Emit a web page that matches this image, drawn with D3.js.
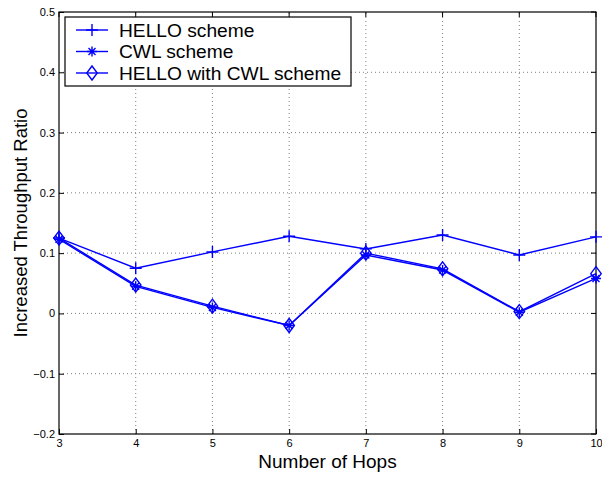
<!DOCTYPE html>
<html>
<head>
<meta charset="utf-8">
<script src="https://d3js.org/d3.v7.min.js"></script>
<style>
  body { margin: 0; background: #fff; }
  text { font-family: "Liberation Sans", Arial, sans-serif; }
</style>
</head>
<body>
<div id="chart"></div>
<script>
// data
const hops = [3, 4, 5, 6, 7, 8, 9, 10];
const helloScheme = [0.125, 0.075, 0.102, 0.128, 0.107, 0.130, 0.097, 0.127];
const cwlScheme = [0.123, 0.045, 0.010, -0.020, 0.097, 0.072, 0.002, 0.058];
const helloCwlScheme = [0.125, 0.047, 0.012, -0.020, 0.100, 0.074, 0.003, 0.066];
const yTicks = [-0.2, -0.1, 0, 0.1, 0.2, 0.3, 0.4, 0.5];
const seriesNames = ["HELLO scheme", "CWL scheme", "HELLO with CWL scheme"];
const seriesMarkers = ["plus", "star", "diamond"];

const width = 602, height = 477;
const margin = { top: 12, right: 6, bottom: 43, left: 59 };
const blue = "#0000ff";

const svg = d3.select("#chart").append("svg")
  .attr("width", width)
  .attr("height", height);

const x = d3.scaleLinear().domain([3, 10]).range([margin.left, width - margin.right]);
const y = d3.scaleLinear().domain([-0.2, 0.5]).range([height - margin.bottom, margin.top]);

const x0 = margin.left, x1 = width - margin.right;
const y0 = height - margin.bottom, y1 = margin.top;

// grid (dotted)
const grid = svg.append("g").attr("stroke", "#808080").attr("stroke-width", 1)
  .attr("stroke-dasharray", "1,3");
hops.slice(1, -1).forEach(h => {
  grid.append("line").attr("x1", x(h)).attr("x2", x(h)).attr("y1", y0).attr("y2", y1);
});
yTicks.slice(1, -1).forEach(v => {
  grid.append("line").attr("x1", x0).attr("x2", x1).attr("y1", y(v)).attr("y2", y(v));
});

// axes, ticks inward like matlab
const xAxis = d3.axisBottom(x).tickValues(hops).tickFormat(d3.format("d")).tickSizeInner(-5).tickSizeOuter(0);
const gx = svg.append("g").attr("transform", `translate(0,${y0})`).call(xAxis);
gx.select(".domain").remove();
gx.selectAll("text").attr("font-size", 11).attr("dy", "0.9em").attr("fill", "#000");

const yAxis = d3.axisLeft(y).tickValues(yTicks).tickFormat(d => d === 0 ? "0" : d3.format(".1f")(d).replace("-", "\u2212"))
  .tickSizeInner(-5).tickSizeOuter(0);
const gy = svg.append("g").attr("transform", `translate(${x0},0)`).call(yAxis);
gy.select(".domain").remove();
gy.selectAll("text").attr("font-size", 11).attr("x", -4).attr("fill", "#000");

// ticks on top and right too
const tk = svg.append("g").attr("stroke", "#000");
hops.forEach(h => tk.append("line").attr("x1", x(h)).attr("x2", x(h)).attr("y1", y1).attr("y2", y1 + 5));
yTicks.forEach(v => tk.append("line").attr("x1", x1).attr("x2", x1 - 5).attr("y1", y(v)).attr("y2", y(v)));

// box
svg.append("rect").attr("x", x0).attr("y", y1).attr("width", x1 - x0).attr("height", y0 - y1)
  .attr("fill", "none").attr("stroke", "#000").attr("stroke-width", 1.2);

// markers
function drawMarker(g, type, cx, cy) {
  if (type === "plus") {
    g.append("path").attr("d", `M${cx - 6},${cy}H${cx + 6}M${cx},${cy - 6}V${cy + 6}`);
  } else if (type === "star") {
    const r = 5;
    g.append("path").attr("d",
      `M${cx - r},${cy}H${cx + r}M${cx},${cy - r}V${cy + r}` +
      `M${cx - r * 0.7},${cy - r * 0.7}L${cx + r * 0.7},${cy + r * 0.7}` +
      `M${cx - r * 0.7},${cy + r * 0.7}L${cx + r * 0.7},${cy - r * 0.7}`);
  } else {
    const r = 7;
    g.append("path").attr("d", `M${cx},${cy - r}L${cx + r * 0.75},${cy}L${cx},${cy + r}L${cx - r * 0.75},${cy}Z`)
      .attr("fill", "none");
  }
}

const allSeries = [helloScheme, cwlScheme, helloCwlScheme];
const line = d3.line().x((d, i) => x(hops[i])).y(d => y(d));

allSeries.forEach((vals, si) => {
  const g = svg.append("g").attr("stroke", blue).attr("fill", "none").attr("stroke-width", 1.4);
  g.append("path").attr("d", line(vals));
  vals.forEach((v, i) => drawMarker(g, seriesMarkers[si], x(hops[i]), y(v)));
});

// legend
const lg = svg.append("g");
lg.append("rect").attr("x", 65).attr("y", 17).attr("width", 286).attr("height", 69)
  .attr("fill", "#fff").attr("stroke", "#000").attr("stroke-width", 1.2);
seriesNames.forEach((name, i) => {
  const ly = 30 + i * 21.5;
  const g = lg.append("g").attr("stroke", blue).attr("fill", "none").attr("stroke-width", 1.4);
  g.append("line").attr("x1", 76).attr("x2", 108).attr("y1", ly).attr("y2", ly);
  drawMarker(g, seriesMarkers[i], 92, ly);
  lg.append("text").attr("x", 119).attr("y", ly).attr("dy", "0.35em")
    .attr("font-size", 19.2).attr("fill", "#000").text(name);
});

// axis labels
svg.append("text").attr("x", (x0 + x1) / 2).attr("y", 468).attr("text-anchor", "middle")
  .attr("font-size", 19).attr("fill", "#000").text("Number of Hops");
svg.append("text").attr("transform", `translate(27,${(y0 + y1) / 2}) rotate(-90)`)
  .attr("text-anchor", "middle").attr("font-size", 18.5).attr("fill", "#000")
  .text("Increased Throughput Ratio");
</script>
</body>
</html>
